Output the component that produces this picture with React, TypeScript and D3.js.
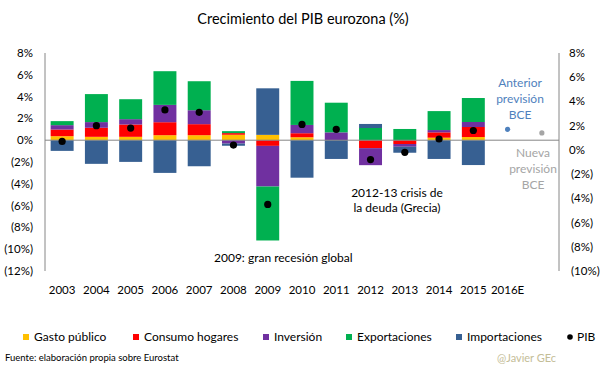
import React from 'react';
import * as d3 from 'd3';

const years = ['2003', '2004', '2005', '2006', '2007', '2008', '2009', '2010', '2011', '2012', '2013', '2014', '2015', '2016E'];
const barYears = years.slice(0, 13);
const gastoPublico = [0.37, 0.31, 0.31, 0.46, 0.46, 0.5, 0.49, 0.27, 0, 0, 0, 0.23, 0.29];
const consumoHogares = [0.61, 0.83, 1.13, 1.19, 1.01, 0.15, -0.52, 0.37, 0, -0.73, -0.35, 0.49, 0.92];
const inversion = [0.4, 0.52, 0.49, 1.59, 1.28, -0.31, -3.73, 0.76, 0.72, -1.56, -0.25, 0.21, 0.46];
const exportaciones = [0.37, 2.57, 1.83, 3.09, 2.66, 0.18, -4.95, 4.04, 2.72, 1.12, 1.03, 1.74, 2.2];
const importaciones = [-0.98, -2.17, -1.99, -3.0, -2.39, -0.2, 4.27, -3.44, -1.72, 0.37, -0.55, -1.72, -2.28];
const pib = [0.7, 2.0, 1.8, 3.3, 3.1, 0.4, -4.5, 2.1, 1.7, -0.8, -0.2, 0.9, 1.6];

const forecastSlots = ['2016E', 'next'];
const forecastValues = [1.7, 1.4];
const forecastColors = ['#4F81BD', '#A5A5A5'];

const leftTicks = [8, 6, 4, 2, 0, -2, -4, -6, -8, -10, -12];
const rightTicks = [8, 6, 4, 2, 0, -2, -4, -6, -8, -10];

const seriesKeys = ['gasto', 'consumo', 'inversion', 'export', 'import'];
const seriesNames = ['Gasto público', 'Consumo hogares', 'Inversión', 'Exportaciones', 'Importaciones'];
const seriesColors = ['#FFC000', '#FF0000', '#7030A0', '#00B050', '#376092'];
const seriesValues = [gastoPublico, consumoHogares, inversion, exportaciones, importaciones];

const W = 605;
const H = 378;
const plot = { left: 45, right: 559, top: 53, bottom: 271 };
const FONT = "Lato, 'Open Sans', sans-serif";

const fmt = (v: number) => (v < 0 ? `(${Math.abs(v)}%)` : `${v}%`);

export default function App() {
  const slots = [...years, 'next'];
  const x = d3.scaleBand<string>().domain(slots).range([plot.left, plot.right]).paddingInner(0.33).paddingOuter(0.165);
  const yL = d3.scaleLinear().domain([-12, 8]).range([plot.bottom, plot.top]);
  const yR = d3.scaleLinear().domain([-10, 8]).range([plot.bottom, plot.top]);

  const rows = barYears.map((yr, i) => {
    const r: any = { year: yr };
    seriesKeys.forEach((k, j) => (r[k] = seriesValues[j][i]));
    return r;
  });
  const stacked = d3.stack<any>().keys(seriesKeys).offset(d3.stackOffsetDiverging)(rows);

  const legendItems = [
    { x: 23, label: seriesNames[0], color: seriesColors[0] },
    { x: 133, label: seriesNames[1], color: seriesColors[1] },
    { x: 263, label: seriesNames[2], color: seriesColors[2] },
    { x: 346, label: seriesNames[3], color: seriesColors[3] },
    { x: 456, label: seriesNames[4], color: seriesColors[4] },
  ];

  return (
    <svg width={W} height={H} style={{ position: 'absolute', left: 0, top: 0, background: '#fff' }} fontFamily={FONT}>
      <rect x={0} y={0} width={W} height={H} fill="#fff" />
      <text x={303} y={24} textAnchor="middle" fontSize={14.5} fill="#000">Crecimiento del PIB eurozona (%)</text>

      {/* left axis labels */}
      {leftTicks.map((t) => (
        <text key={'l' + t} x={33} y={yL(t)} dy="0.35em" textAnchor="end" fontSize={11.5} fill="#000">{fmt(t)}</text>
      ))}
      {/* right axis labels */}
      {rightTicks.map((t) => (
        <text key={'r' + t} x={t < 0 ? 571 : 569} y={yR(t)} dy="0.35em" textAnchor="start" fontSize={11.5} fill="#000">{fmt(t)}</text>
      ))}

      {/* bars */}
      {stacked.map((s, j) => (
        <g key={s.key} fill={seriesColors[j]}>
          {s.map((d: any, i: number) => {
            const y0 = yL(d[0]);
            const y1 = yL(d[1]);
            return (
              <rect key={i} x={x(rows[i].year)} width={x.bandwidth()} y={Math.min(y0, y1)} height={Math.abs(y0 - y1)} />
            );
          })}
        </g>
      ))}

      {/* axes lines */}
      <line x1={plot.left} x2={plot.left} y1={plot.top} y2={plot.bottom} stroke="#868686" strokeWidth={1} />
      <line x1={plot.right} x2={plot.right} y1={plot.top} y2={plot.bottom} stroke="#868686" strokeWidth={1} />
      <line x1={plot.left} x2={plot.right} y1={yL(0)} y2={yL(0)} stroke="#868686" strokeWidth={1} />

      {/* PIB dots */}
      {pib.map((v, i) => (
        <circle key={'p' + i} cx={(x(barYears[i]) as number) + x.bandwidth() / 2} cy={yR(v)} r={3.6} fill="#000" />
      ))}
      {/* forecast dots */}
      {forecastValues.map((v, i) => (
        <circle key={'f' + i} cx={(x(forecastSlots[i]) as number) + x.bandwidth() / 2} cy={yR(v)} r={2.6} fill={forecastColors[i]} />
      ))}

      {/* x labels */}
      {years.map((yr) => (
        <text key={'x' + yr} x={(x(yr) as number) + x.bandwidth() / 2} y={290} dy="0.35em" textAnchor="middle" fontSize={11.5} fill="#000">{yr}</text>
      ))}

      {/* annotations */}
      <text x={214} y={258} dy="0.35em" fontSize={12} fill="#000">2009: gran recesión global</text>
      <text x={397} y={193} dy="0.35em" textAnchor="middle" fontSize={12} fill="#000">2012-13 crisis de</text>
      <text x={397} y={208} dy="0.35em" textAnchor="middle" fontSize={12} fill="#000">la deuda (Grecia)</text>
      {['Anterior', 'previsión', 'BCE'].map((t, i) => (
        <text key={'a' + t} x={520} y={83 + i * 16} dy="0.35em" textAnchor="middle" fontSize={12} fill={forecastColors[0]}>{t}</text>
      ))}
      {['Nueva', 'previsión', 'BCE'].map((t, i) => (
        <text key={'n' + t} x={533} y={153 + i * 15.7} dy="0.35em" textAnchor="middle" fontSize={12} fill={forecastColors[1]}>{t}</text>
      ))}

      {/* legend */}
      {legendItems.map((it) => (
        <g key={it.label}>
          <rect x={it.x} y={334} width={6} height={6} fill={it.color} />
          <text x={it.x + 11} y={337} dy="0.35em" fontSize={12} fill="#000">{it.label}</text>
        </g>
      ))}
      <circle cx={570} cy={337} r={2.8} fill="#000" />
      <text x={577} y={337} dy="0.35em" fontSize={12} fill="#000">PIB</text>

      <text x={5} y={358} dy="0.35em" fontSize={9.5} fill="#000">Fuente: elaboración propia sobre Eurostat</text>
      <text x={497} y={358} dy="0.35em" fontSize={11} fill="#C4BD97">@Javier GEc</text>
    </svg>
  );
}
